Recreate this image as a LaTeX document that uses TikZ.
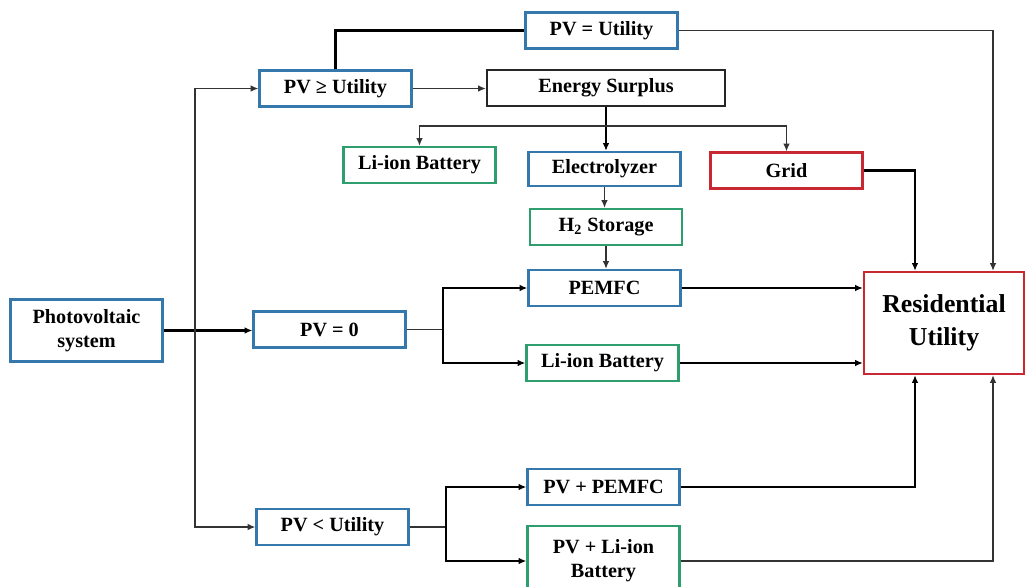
\documentclass[tikz,border=0pt]{standalone}
\usepackage{fontspec}
\setmainfont{Liberation Serif}
\usetikzlibrary{arrows.meta,calc}

\definecolor{boxblue}{RGB}{52,120,172}
\definecolor{boxgreen}{RGB}{46,158,110}
\definecolor{boxred}{RGB}{200,40,50}

\tikzset{
  box/.style={draw, line width=1.3pt, fill=white, minimum width=3.04cm, minimum height=0.72cm,
    inner sep=1pt, align=center, font=\fontsize{11.5}{13.5}\selectfont\bfseries},
  bluebox/.style={box, draw=boxblue},
  greenbox/.style={box, draw=boxgreen},
  redbox/.style={box, draw=boxred},
  blackbox/.style={box, draw=black!85},
  thinline/.style={line width=0.8pt, black!80},
  thickline/.style={line width=1.25pt, black},
  >={Latex[length=4.4pt,width=3.8pt]}
}

\begin{document}
\begin{tikzpicture}[x=0.02cm, y=-0.02cm]
\clip (0,0) rectangle (1027,586);

% Source
\node[bluebox, minimum height=1.24cm] (pvsys) at (86.5,330.5) {Photovoltaic\\system};

% Operating conditions
\node[bluebox] (pvge) at (335.5,88.5) {PV ≥ Utility};
\node[bluebox] (pveq) at (601.5,30.5) {PV = Utility};
\node[bluebox] (pvzero) at (329.5,329.5) {PV = 0};
\node[bluebox] (pvlt) at (332.5,527) {PV < Utility};

% Surplus branch
\node[blackbox, minimum width=4.76cm] (surplus) at (606,88) {Energy Surplus};
\node[greenbox] (batt1) at (419.5,165) {Li-ion Battery};
\node[bluebox, minimum height=0.68cm] (elec) at (604.5,169) {Electrolyzer};
\node[redbox] (grid) at (786.5,170.5) {Grid};
\node[greenbox] (htwo) at (606,227) {H\textsubscript{2} Storage};

% Supply units
\node[bluebox] (pemfc) at (604.5,288) {PEMFC};
\node[greenbox] (batt2) at (602.5,363) {Li-ion Battery};
\node[bluebox] (pvpem) at (603.5,487) {PV + PEMFC};
\node[greenbox, minimum height=1.4cm] (pvbat) at (603.5,561) {PV + Li-ion\\Battery};

% Load
\node[redbox, minimum width=3.2cm, minimum height=2.04cm,
  font=\fontsize{14.7}{18.7}\selectfont\bfseries] (resid) at (944,323) {Residential\\Utility};

% Turning points
\coordinate (tr) at (195,0);
\coordinate (sp) at (0,126);
\coordinate (sz) at (443,0);
\coordinate (sl) at (446,0);
\coordinate (rB) at (915,0);
\coordinate (rA) at (993,0);

% From the PV system
\draw[thickline, ->] (pvsys.east) -- (pvsys.east -| pvzero.west);
\draw[thinline, <->] (pvge.west) -| (tr |- pvlt.west) -- (pvlt.west);

% PV >= Utility
\draw[thickline] (pvge.north) |- (pveq.west);
\draw[thinline, ->] (pveq.east) -| (rA |- resid.north);
\draw[thinline, ->] (pvge.east) -- (pvge.east -| surplus.west);
\draw[thickline, ->] (surplus.south) -- (surplus.south |- elec.north);
\draw[thinline, <->] (batt1.north) |- (grid.north |- sp) -- (grid.north);
\draw[thinline, ->] (elec.south) -- (elec.south |- htwo.north);
\draw[thinline, ->] (htwo.south) -- (htwo.south |- pemfc.north);
\draw[thickline, ->] (grid.east) -| (rB |- resid.north);

% PV = 0
\draw[thinline] (pvzero.east) -- (sz |- pvzero.east);
\draw[thickline, <->] (pemfc.west) -| (sz |- batt2.west) -- (batt2.west);
\draw[thickline, ->] (pemfc.east) -- (pemfc.east -| resid.west);
\draw[thickline, ->] (batt2.east) -- (batt2.east -| resid.west);

% PV < Utility
\draw[thinline] (pvlt.east) -- (sl |- pvlt.east);
\draw[thickline, <->] (pvpem.west) -| (sl |- pvbat.west) -- (pvbat.west);
\draw[thickline, ->] (pvpem.east) -| (rB |- resid.south);
\draw[thinline, ->] (pvbat.east) -| (rA |- resid.south);

\end{tikzpicture}
\end{document}
